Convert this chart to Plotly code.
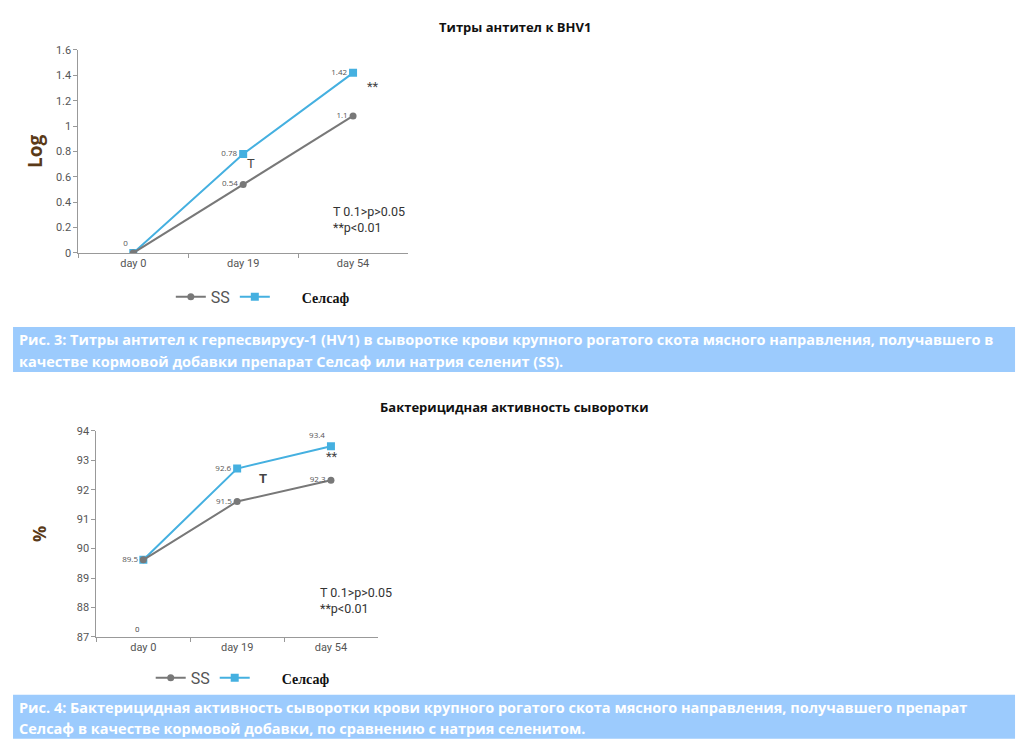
import plotly.graph_objects as go

W, H = 1024, 755

days = ["day 0", "day 19", "day 54"]

# Chart 1: antibody titres (Log)
titre_ss = [0.0, 0.54, 1.08]
titre_sel = [0.0, 0.78, 1.42]
titre_ss_labels = ["0", "0.54", "1.1"]
titre_sel_labels = ["", "0.78", "1.42"]

# Chart 2: bactericidal activity (%)
bact_ss = [89.62, 91.6, 92.32]
bact_sel = [89.62, 92.72, 93.48]
bact_ss_labels = ["89.5", "91.5", "92.3"]
bact_sel_labels = ["", "92.6", "93.4"]

title1 = "Титры антител к BHV1"
title2 = "Бактерицидная активность сыворотки"
cap1 = ["Рис. 3: Титры антител к герпесвирусу-1 (HV1) в сыворотке крови крупного рогатого скота мясного направления, получавшего в",
        "качестве кормовой добавки препарат Селсаф или натрия селенит (SS)."]
cap2 = ["Рис. 4: Бактерицидная активность сыворотки крови крупного рогатого скота мясного направления, получавшего препарат",
        "Селсаф в качестве кормовой добавки, по сравнению с натрия селенитом."]
ptext = "T 0.1>p>0.05<br>**p<0.01"

GRAY = "#787878"
BLUE = "#45b0e0"
TICKC = "#555555"
BROWN = "#5a3a18"

# map reference-pixel positions to paper coordinates (compensating page offset)
def px(x, y):
    xs = (x - 8) / 0.995
    ys = (y - 14) / 0.983
    return xs / W, 1 - ys / H

SS_NAME = "SS"
SEL_NAME = "\u2007\u2007\u2007<span style='font-family:Liberation Serif;color:#111111;font-size:14px'><b>Селсаф</b></span>"

fig = go.Figure()

# Chart 1
fig.add_trace(go.Scatter(x=days, y=titre_sel, mode="lines+markers+text", name=SEL_NAME,
                         text=titre_sel_labels, textposition="middle left",
                         textfont=dict(size=8, color="#555"),
                         line=dict(color=BLUE, width=2),
                         marker=dict(symbol="square", size=8, color=BLUE),
                         xaxis="x", yaxis="y", legend="legend", legendrank=2))
fig.add_trace(go.Scatter(x=days, y=titre_ss, mode="lines+markers+text", name=SS_NAME,
                         text=titre_ss_labels, textposition=["top left", "middle left", "middle left"],
                         textfont=dict(size=8, color="#555"),
                         line=dict(color=GRAY, width=2),
                         marker=dict(symbol="circle", size=7, color=GRAY),
                         xaxis="x", yaxis="y", legend="legend", legendrank=1))

# Chart 2
fig.add_trace(go.Scatter(x=days, y=bact_sel, mode="lines+markers+text", name=SEL_NAME,
                         text=bact_sel_labels, textposition=["middle left", "middle left", "top left"],
                         textfont=dict(size=8, color="#555"),
                         line=dict(color=BLUE, width=2),
                         marker=dict(symbol="square", size=8, color=BLUE),
                         xaxis="x2", yaxis="y2", legend="legend2", legendrank=2))
fig.add_trace(go.Scatter(x=days, y=bact_ss, mode="lines+markers+text", name=SS_NAME,
                         text=bact_ss_labels, textposition="middle left",
                         textfont=dict(size=8, color="#555"),
                         line=dict(color=GRAY, width=2),
                         marker=dict(symbol="circle", size=7, color=GRAY),
                         xaxis="x2", yaxis="y2", legend="legend2", legendrank=1))

axis_common = dict(showgrid=False, zeroline=False, showline=True, linecolor="#999999", linewidth=1,
                   ticks="outside", ticklen=4, tickcolor="#999999",
                   tickfont=dict(family="Roboto", size=11, color=TICKC))

x1l, y1t = px(78, 50)
x1r, y1b = px(406, 253)
x2l, y2t = px(96, 431)
x2r, y2b = px(376, 637)

fig.update_layout(
    width=W, height=H, autosize=False,
    margin=dict(l=0, r=0, t=0, b=0),
    paper_bgcolor="white", plot_bgcolor="white",
    xaxis=dict(domain=[x1l, x1r], anchor="y", type="category", range=[-0.5, 2.5],
               tickson="boundaries", **axis_common),
    yaxis=dict(domain=[y1b, y1t], anchor="x", range=[0, 1.6], dtick=0.2,
               title=dict(text="<b>Log</b>", font=dict(family="Open Sans", size=19, color=BROWN), standoff=8),
               **axis_common),
    xaxis2=dict(domain=[x2l, x2r], anchor="y2", type="category", range=[-0.5, 2.5],
                tickson="boundaries", **axis_common),
    yaxis2=dict(domain=[y2b, y2t], anchor="x2", range=[87, 94], dtick=1,
                title=dict(text="<b>%</b>", font=dict(family="Open Sans", size=18, color=BROWN), standoff=25),
                **axis_common),
    legend=dict(orientation="h", x=px(170, 0)[0], y=px(0, 297)[1], xanchor="left", yanchor="middle",
                font=dict(family="Roboto", size=16, color="#555"), bgcolor="rgba(0,0,0,0)"),
    legend2=dict(orientation="h", x=px(150, 0)[0], y=px(0, 678)[1], xanchor="left", yanchor="middle",
                 font=dict(family="Roboto", size=16, color="#555"), bgcolor="rgba(0,0,0,0)"),
    showlegend=True,
)

ann = []
def add_text(x, y, text, size=12, color="#333", bold=False, family="Roboto", xanchor="center", align="center"):
    X, Y = px(x, y)
    ann.append(dict(x=X, y=Y, xref="paper", yref="paper", text=("<b>%s</b>" % text) if bold else text,
                    showarrow=False, xanchor=xanchor, yanchor="middle", align=align,
                    font=dict(family=family, size=size, color=color)))

add_text(512, 27, title1, size=13, color="#111", bold=True, family="Open Sans")
add_text(512, 407, title2, size=13, color="#111", bold=True, family="Open Sans")

add_text(250, 164, "T", size=13, color="#444")
add_text(371, 87, "**", size=13, color="#444")
add_text(329, 220, ptext, size=12.5, color="#333", xanchor="left", align="left")

add_text(262, 479, "T", size=13, color="#444", bold=True)
add_text(330, 457, "**", size=13, color="#444")
add_text(316, 601, ptext, size=12.5, color="#333", xanchor="left", align="left")

# stray "0" label on chart 2
ann.append(dict(x="day 0", y=87.25, xref="x2", yref="y2", text="0", showarrow=False, xshift=-6,
                font=dict(family="Roboto", size=8, color="#555")))

# captions
shapes = []
for (top, bot, lines, ys) in [(327, 372, cap1, (340, 362)), (695, 739, cap2, (708, 729))]:
    xa, ya = px(13, top)
    xb, yb = px(1010, bot)
    shapes.append(dict(type="rect", xref="paper", yref="paper", x0=xa, x1=xb, y0=yb, y1=ya,
                       fillcolor="#9ccbfd", line=dict(width=0), layer="below"))
    for t, yy in zip(lines, ys):
        add_text(17, yy, t, size=14.5, color="white", bold=True, family="Open Sans", xanchor="left", align="left")

fig.update_layout(annotations=ann, shapes=shapes)

fig.write_html("out.html")
